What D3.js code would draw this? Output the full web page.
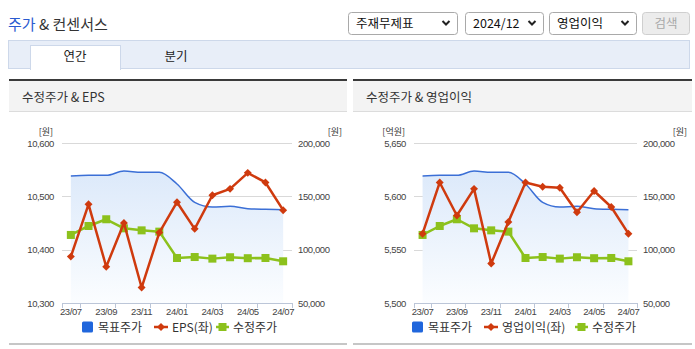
<!DOCTYPE html>
<html><head><meta charset="utf-8">
<script src="https://cdn.jsdelivr.net/npm/d3@7"></script>
<style>
body{margin:0;background:#fff;}
svg{display:block;font-family:"Noto Sans CJK KR","Noto Sans",sans-serif;}
</style>
</head><body>
<svg id="c" width="695" height="349"></svg>
<script>
// ---- data ----
const categories = ["23/07","23/08","23/09","23/10","23/11","23/12","24/01","24/02","24/03","24/04","24/05","24/06","24/07"];
const tickLabels = ["23/07","23/09","23/11","24/01","24/03","24/05","24/07"];
const targetPrice = [169100,169700,169700,173700,172500,172500,161600,144400,140000,140600,138400,137800,137500];
const adjPrice    = [113800,122200,128500,120000,118100,116900,92200,93100,91600,92900,92000,92200,89100];
const eps         = [10387,10485,10368,10450,10329,10432,10489,10439,10502,10514,10544,10526,10474];
const opIncome    = [5565,5613,5582,5607,5537,5576,5613,5609,5608,5585,5605,5590,5565];
const epsTicks = [10300,10400,10500,10600];
const opTicks  = [5500,5550,5600,5650];
const priceTicks = [50000,100000,150000,200000];
const selectLabels = ["주재무제표","2024/12","영업이익"];
const tabLabels = ["연간","분기"];

const C = {blue:"#3b6fd6", legendBlue:"#2066dc", red:"#cf3a0e", green:"#8cc11c", grid:"#d9d9d9", axis:"#bcc6d8", text:"#444"};
const svg = d3.select("#c");
const numFont = "'Liberation Sans', Arial, sans-serif";

// ---- header ----
const title = svg.append("text").attr("x",8).attr("y",30).attr("font-size",15);
title.append("tspan").attr("fill","#2a5bd0").text("주가");
title.append("tspan").attr("fill","#333").text(" & 컨센서스");

const selBoxes = [[348,457],[465,543],[549,636]];
selBoxes.forEach((b,i)=>{
  svg.append("rect").attr("x",b[0]+0.5).attr("y",12.5).attr("width",b[1]-b[0]).attr("height",22).attr("rx",3)
    .attr("fill","#fff").attr("stroke","#a9a9a9");
  svg.append("text").attr("x",b[0]+8).attr("y",28).attr("font-size",12.5).attr("fill","#111").text(selectLabels[i]);
  const cx=b[1]-11, cy=23;
  svg.append("path").attr("d",`M${cx-3.5},${cy-2}L${cx},${cy+1.5}L${cx+3.5},${cy-2}`)
    .attr("fill","none").attr("stroke","#222").attr("stroke-width",2);
});
svg.append("rect").attr("x",642.5).attr("y",12.5).attr("width",47).attr("height",22).attr("rx",3)
  .attr("fill","#ececec").attr("stroke","#cfcfcf");
svg.append("text").attr("x",666).attr("y",28).attr("text-anchor","middle").attr("font-size",12.5).attr("fill","#a8a8a8").text("검색");

// tabs
svg.append("rect").attr("x",8.5).attr("y",40.5).attr("width",681).attr("height",28).attr("fill","#e8eef8").attr("stroke","#cdd8ea");
svg.append("rect").attr("x",30.5).attr("y",45.5).attr("width",90).attr("height",24).attr("fill","#fff").attr("stroke","#cdd8ea");
svg.append("rect").attr("x",31).attr("y",68).attr("width",89).attr("height",2).attr("fill","#fff");
svg.append("text").attr("x",75).attr("y",61).attr("text-anchor","middle").attr("font-size",12.5).attr("fill","#222").text(tabLabels[0]);
svg.append("text").attr("x",176).attr("y",61).attr("text-anchor","middle").attr("font-size",12.5).attr("fill","#222").text(tabLabels[1]);

// gradient
const defs = svg.append("defs");
const g = defs.append("linearGradient").attr("id","areaGrad").attr("x1",0).attr("y1",0).attr("x2",0).attr("y2",1);
g.append("stop").attr("offset","0%").attr("stop-color","#dce9fa");
g.append("stop").attr("offset","100%").attr("stop-color","#fbfdff");

function panel(o){
  // panel header
  svg.append("rect").attr("x",o.px0).attr("y",81).attr("width",o.px1-o.px0).attr("height",31).attr("fill","#f3f3f3");
  svg.append("rect").attr("x",o.px0).attr("y",79).attr("width",o.px1-o.px0).attr("height",2).attr("fill","#3a3a3a");
  svg.append("rect").attr("x",o.px0).attr("y",111).attr("width",o.px1-o.px0).attr("height",1).attr("fill","#dcdcdc");
  svg.append("text").attr("x",o.px0+13).attr("y",102).attr("font-size",12.5).attr("fill","#333").text(o.title);
  svg.append("rect").attr("x",o.px0).attr("y",343).attr("width",o.px1-o.px0).attr("height",2).attr("fill","#c6c6c6");

  const x = d3.scaleBand().domain(categories).range([o.x0,o.x1]);
  const bw = x.bandwidth();
  const cx = c => x(c)+bw/2;
  const yL = d3.scaleLinear().domain([o.leftTicks[0],o.leftTicks[3]]).range([303,143]);
  const yR = d3.scaleLinear().domain([priceTicks[0],priceTicks[3]]).range([303,143]);

  // grid
  o.leftTicks.slice(1).forEach(t=>{
    svg.append("line").attr("x1",o.x0).attr("x2",o.x1).attr("y1",Math.round(yL(t))+0.5).attr("y2",Math.round(yL(t))+0.5)
      .attr("stroke",C.grid);
  });
  // area + target line
  const area = d3.area().x((d,i)=>cx(categories[i])).y0(303).y1(d=>yR(d)).curve(d3.curveMonotoneX);
  svg.append("path").attr("d",area(targetPrice)).attr("fill","url(#areaGrad)");
  const line = d3.line().x((d,i)=>cx(categories[i])).y(d=>yR(d)).curve(d3.curveMonotoneX);
  svg.append("path").attr("d",line(targetPrice)).attr("fill","none").attr("stroke",C.blue).attr("stroke-width",1.5);

  // x axis
  svg.append("line").attr("x1",o.x0).attr("x2",o.x1).attr("y1",303.5).attr("y2",303.5).attr("stroke",C.axis);
  const tickXs=[o.x0];
  categories.forEach((c,i)=>{ if(i%2===1) tickXs.push(x(c)); });
  tickXs.push(o.x1);
  tickXs.forEach(tx=>svg.append("line").attr("x1",Math.round(tx)+0.5).attr("x2",Math.round(tx)+0.5).attr("y1",303).attr("y2",308).attr("stroke",C.axis));
  tickLabels.forEach(l=>{
    svg.append("text").attr("x",cx(l)).attr("y",315).attr("text-anchor","middle").attr("font-family",numFont)
      .attr("font-size",9.5).attr("letter-spacing",-0.4).attr("fill",C.text).text(l);
  });
  // y labels
  o.leftTicks.forEach(t=>{
    svg.append("text").attr("x",o.x0-8).attr("y",yL(t)+3.5).attr("text-anchor","end").attr("font-family",numFont)
      .attr("font-size",9.5).attr("letter-spacing",-0.4).attr("fill",C.text).text(d3.format(",")(t));
  });
  priceTicks.forEach(t=>{
    svg.append("text").attr("x",o.x1+6).attr("y",yR(t)+3.5).attr("font-family",numFont)
      .attr("font-size",9.5).attr("letter-spacing",-0.4).attr("fill",C.text).text(d3.format(",")(t));
  });
  svg.append("text").attr("x",o.x0-9).attr("y",135).attr("text-anchor","end").attr("font-size",9).attr("fill","#333").text(o.unitL);
  svg.append("text").attr("x",o.x1+50).attr("y",135).attr("text-anchor","end").attr("font-size",9).attr("fill","#333").text("[원]");

  // green series
  const lin = d3.line().x((d,i)=>cx(categories[i]));
  svg.append("path").attr("d",lin.y(d=>yR(d))(adjPrice)).attr("fill","none").attr("stroke",C.green).attr("stroke-width",2.5).attr("stroke-linejoin","round");
  adjPrice.forEach((d,i)=>svg.append("rect").attr("x",cx(categories[i])-4).attr("y",yR(d)-4).attr("width",8).attr("height",8).attr("fill",C.green));
  // red series
  svg.append("path").attr("d",d3.line().x((d,i)=>cx(categories[i])).y(d=>yL(d))(o.red)).attr("fill","none").attr("stroke",C.red).attr("stroke-width",2.5).attr("stroke-linejoin","round");
  const sym = d3.symbol().type(d3.symbolDiamond2).size(40);
  o.red.forEach((d,i)=>svg.append("path").attr("d",sym()).attr("transform",`translate(${cx(categories[i])},${yL(d)})`).attr("fill",C.red));

  // legend
  const L=o.leg, ly=327;
  svg.append("rect").attr("x",L[0]).attr("y",ly-5.5).attr("width",11).attr("height",11).attr("rx",1.5).attr("fill",C.legendBlue);
  svg.append("text").attr("x",L[0]+16).attr("y",ly+4.5).attr("font-size",12).attr("fill","#333").text("목표주가");
  svg.append("line").attr("x1",L[1]).attr("x2",L[1]+14).attr("y1",ly).attr("y2",ly).attr("stroke",C.red).attr("stroke-width",2.5);
  svg.append("path").attr("d",sym()).attr("transform",`translate(${L[1]+7},${ly})`).attr("fill",C.red);
  svg.append("text").attr("x",L[1]+18).attr("y",ly+4.5).attr("font-size",12).attr("fill","#333").text(o.redLabel);
  svg.append("line").attr("x1",L[2]).attr("x2",L[2]+13).attr("y1",ly).attr("y2",ly).attr("stroke",C.green).attr("stroke-width",2.5);
  svg.append("rect").attr("x",L[2]+2.5).attr("y",ly-4).attr("width",8).attr("height",8).attr("fill",C.green);
  svg.append("text").attr("x",L[2]+17).attr("y",ly+4.5).attr("font-size",12).attr("fill","#333").text("수정주가");
}

panel({px0:9,px1:347,x0:62,x1:292,title:"수정주가 & EPS",leftTicks:epsTicks,red:eps,redLabel:"EPS(좌)",unitL:"[원]",leg:[82,154,216]});
panel({px0:353,px1:692,x0:414,x1:637,title:"수정주가 & 영업이익",leftTicks:opTicks,red:opIncome,redLabel:"영업이익(좌)",unitL:"[억원]",leg:[412,484,575]});
</script>
</body></html>
